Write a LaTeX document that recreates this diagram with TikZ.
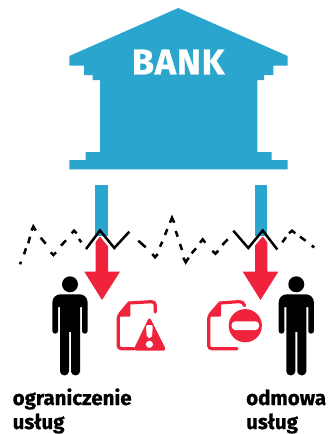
\documentclass[tikz,border=0pt]{standalone}
\usepackage{fontspec}
\setmainfont{Fira Sans}
\newfontfamily\heavy[FakeBold=0.8]{Fira Sans Bold}
\newfontfamily\heavybank[FakeBold=0.6,LetterSpace=2.5]{Fira Sans Bold}
\definecolor{bankblue}{HTML}{29A5CE}
\definecolor{alertred}{HTML}{EF233C}
\tikzset{
 blueshape/.style={fill=bankblue,draw=none},
 redshape/.style={fill=alertred,draw=none},
 zig/.style={draw=black,line width=2.5pt,line join=miter},
 zigdash/.style={draw=black,line width=2.5pt,line join=miter},
 label/.style={anchor=base west,inner sep=0pt,font=\fontsize{20.5}{20.5}\selectfont\heavy},
 docline/.style={draw=alertred,line width=3.2pt,line cap=round},
}
\newcommand{\personfig}[2]{%
 \begin{scope}[shift={(#1,#2)}]
 \fill (0,0) circle (8);
 \fill (-17.6,22) [rounded corners=8pt] -- (-17.6,10) -- (17.6,10) [sharp corners] -- (17.6,22)
   [rounded corners=2.6pt] -- (17.6,49.3) -- (12,49.3) [sharp corners] -- (12,22.7) -- (10,22.7)
   [rounded corners=4pt] -- (10,91) -- (1,91) [sharp corners] -- (1,47.5) -- (-1,47.5)
   [rounded corners=4pt] -- (-1,91) -- (-10,91) [sharp corners] -- (-10,22.7) -- (-12,22.7)
   [rounded corners=2.6pt] -- (-12,49.3) -- (-17.6,49.3) [sharp corners] -- (-17.6,22) -- cycle;
 \end{scope}}
\begin{document}
\begin{tikzpicture}[x=1pt,y=-1pt]
\useasboundingbox (0,0) rectangle (327,434);
\clip (0,0) rectangle (327,434);
% bank
\path[blueshape] (178.3,8) -- (287.7,56) -- (287.7,65.7) -- (273.3,65.7) -- (273.3,75) -- (264,75) -- (264,80) -- (257.3,80) -- (257.3,152) -- (271.7,152) -- (271.7,160) -- (287.7,160) -- (287.7,169.3) -- (69.3,169.3) -- (69.3,160) -- (85.7,160) -- (85.7,152) -- (100,152) -- (100,80) -- (92.7,80) -- (92.7,75) -- (84,75) -- (84,65.7) -- (69.3,65.7) -- (69.3,56) -- cycle;
\node[inner sep=0pt,text=white,font=\fontsize{36}{36}\selectfont\heavybank] (bank) at (178.2,62) {BANK};
% columns
\path[blueshape] (95,184.7) rectangle (108.3,236);
\path[blueshape] (254.7,184.7) rectangle (267.3,236);
% dashed line, piece by piece
\draw[zigdash] (20,264.3) -- (21,261.7)
 (24,254.3) -- (26,248.3) (28.3,243.3) -- (30,236.7)
 (31.5,230.5) -- (33.3,226.5) -- (35.7,230.5)
 (40.7,237.7) -- (45.7,243.7)
 (50.7,252.3) -- (53.3,255) -- (56,252.3)
 (61,245.7) -- (66,240.3)
 (71.7,233.3) -- (74,230.7) -- (76.7,233.3)
 (79,239) -- (81.3,242.3);
\draw[zigdash] (138.3,240.7) -- (145.7,247.3)
 (152.3,254) -- (155,257.3) -- (157.7,254)
 (160,246.7) -- (162.3,241.7)
 (165,235) -- (167.3,229)
 (170,222.7) -- (172,217.7) -- (174.3,222.7)
 (175.7,231) -- (177.7,236.7)
 (180,244) -- (182,250)
 (183.3,257.7) -- (185.7,262.3) -- (188.7,257.7)
 (191.7,253.3) -- (196,248.3)
 (200,242.7) -- (202.7,239.3) -- (205.3,242.7)
 (212.3,250.7) -- (215.3,253.7) -- (218.3,250.7)
 (222.3,245) -- (227.7,239.3);
\draw[zigdash] (282.3,242.3) -- (286,237.3)
 (289,233.3) -- (292,230.7) -- (295.3,233.3)
 (300,236.7) -- (305.7,240.7)
 (311.7,245.7) -- (314.3,247.3);
% solid zigzags
\draw[zig] (86,249) -- (100,230.5) -- (114.3,248) -- (129.3,231.7);
\draw[zig] (233.3,230.7) -- (248.3,248) -- (262.7,230.5) -- (277.3,249.5);
% red arrows
\path[redshape] (95.7,242) -- (100,236.5) -- (108,246.5) -- (108,271.7) -- (120,271.7) -- (102,300) -- (84.3,271.7) -- (95.7,271.7) -- cycle;
\path[redshape] (255,245.5) -- (262.7,236.5) -- (267.3,242.5) -- (267.3,271.7) -- (278.3,271.7) -- (260.5,300) -- (242.7,271.7) -- (255,271.7) -- cycle;
% people
\personfig{70}{284.3}
\personfig{296.3}{284.3}
% warning document
\draw[docline] (134,348.7) -- (121,348.7) [rounded corners=3pt] -- (118.2,348.7) -- (118.2,316) [sharp corners] -- (129,303) -- (151,301.7) [rounded corners=3.5pt] -- (155.3,301.7) -- (155.3,312);
\path[redshape,rounded corners=1pt] (118,316.7) -- (130.3,302) -- (130.3,316.7) -- cycle;
\path[redshape,rounded corners=3.5pt] (133,350.7) -- (149.5,316.5) -- (166.5,350.7) -- cycle;
\path[fill=white,rounded corners=2pt] (145.9,325) -- (152.9,325) -- (151.9,338) -- (146.9,338) -- cycle;
\fill[white] (149.4,344.3) circle (3.6);
% refusal document
\draw[docline] (237,348.7) -- (212,348.7) [rounded corners=3pt] -- (208.7,348.7) -- (208.7,316) [sharp corners] -- (220,303) -- (238,301.7) [rounded corners=3.5pt] -- (243.5,301.7) -- (244.5,306);
\path[redshape,rounded corners=1pt] (208.5,316.7) -- (221,302) -- (221,316.7) -- cycle;
\fill[white] (245.3,325.7) circle (19);
\fill[alertred] (245.3,325.7) circle (16.6);
\fill[white,rounded corners=3.5pt] (231.7,321.3) rectangle (259,330);
% labels
\node[label] (l1) at (12.5,405) {ograniczenie};
\node[label] (l2) at (12.5,429) {usług};
\node[label] (r1) at (246,405) {odmowa};
\node[label] (r2) at (246,429) {usług};
\end{tikzpicture}
\end{document}
